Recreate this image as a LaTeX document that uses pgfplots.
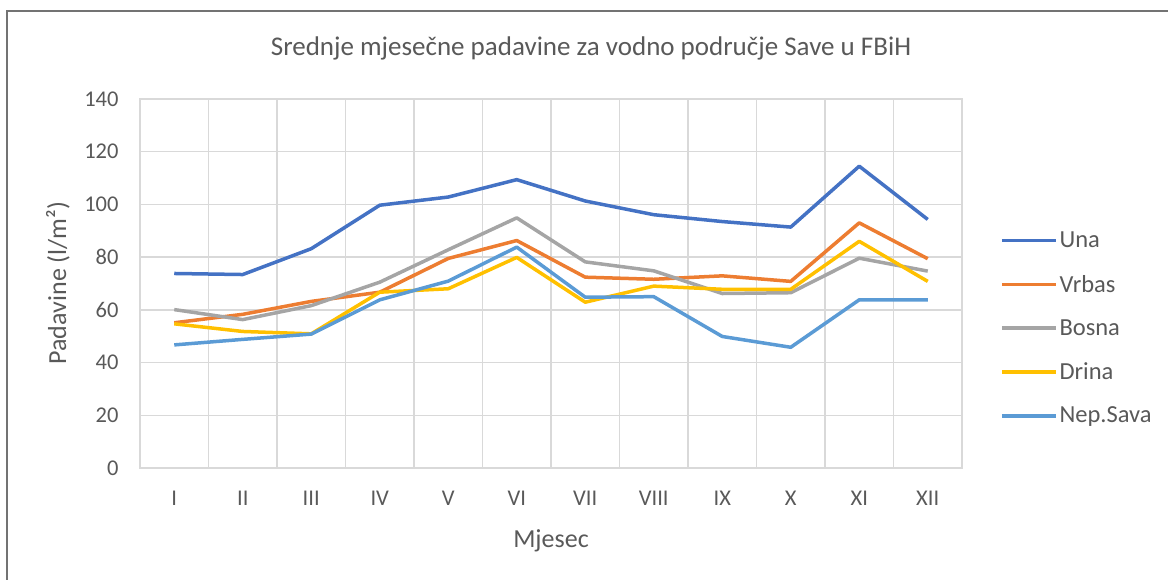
\documentclass[border=0pt]{standalone}
\usepackage{fontspec}
\setmainfont{Carlito}
\usepackage{pgfplots}
\pgfplotsset{compat=1.18}
\definecolor{cUna}{HTML}{4472C4}
\definecolor{cVrbas}{HTML}{ED7D31}
\definecolor{cBosna}{HTML}{A5A5A5}
\definecolor{cDrina}{HTML}{FFC000}
\definecolor{cSava}{HTML}{5B9BD5}
\definecolor{txt}{HTML}{595959}
\definecolor{gridc}{HTML}{D9D9D9}
\begin{document}
\begin{tikzpicture}
\useasboundingbox (0,0) rectangle (1168pt,580pt);
\draw[color=gray!110, line width=2pt] (7pt,0pt) -- (7pt,569pt) -- (1168pt,569pt);
\begin{axis}[
  at={(140pt,112pt)}, anchor=south west,
  scale only axis, width=822pt, height=369pt,
  xmin=0.5, xmax=12.5, ymin=0, ymax=140,
  xtick={1,...,12},
  xticklabels={I,II,III,IV,V,VI,VII,VIII,IX,X,XI,XII},
  minor xtick={1.5,2.5,...,11.5},
  ytick={0,20,...,140},
  major tick length=0pt, minor tick length=0pt,
  ymajorgrids, xminorgrids,
  grid style={gridc, line width=1.5pt},
  minor grid style={gridc, line width=1.5pt},
  axis line style={gridc, line width=1.5pt},
  every tick label/.append style={font=\fontsize{22.5}{27}\selectfont, text=txt},
  xticklabel style={yshift=-20pt},
  yticklabel style={xshift=-18pt},
  /pgf/number format/assume math mode=true,
  title={Srednje mjesečne padavine za vodno područje Save u FBiH},
  title style={at={(axis description cs:0.5487,1.12)}, anchor=center, font=\fontsize{27}{32}\selectfont, text=txt},
  xlabel={Mjesec},
  xlabel style={at={(axis description cs:0.5,-0.198)}, anchor=center, font=\fontsize{26}{31}\selectfont, text=txt},
  ylabel={Padavine (l/m²)},
  ylabel style={at={(axis description cs:-0.1,0.501)}, anchor=center, rotate=0, font=\fontsize{26}{31}\selectfont, text=txt},
  legend style={at={(axis description cs:1.046,0.379)}, anchor=west, draw=none, fill=none,
    font=\fontsize{24.5}{29}\selectfont, text=txt, row sep=22pt, inner sep=0pt},
  legend cell align=left,
  legend image code/.code={\draw[#1, line width=3.5pt] (0pt,0pt) -- (54pt,0pt);},
  every axis plot/.append style={line width=3.5pt, line join=round, mark=none},
]
\addplot[cUna] coordinates {(1,73.8)(2,73.4)(3,83.2)(4,99.7)(5,102.8)(6,109.4)(7,101.3)(8,96.1)(9,93.5)(10,91.4)(11,114.5)(12,94.3)};
\addplot[cVrbas] coordinates {(1,55.1)(2,58.3)(3,63.2)(4,66.7)(5,79.5)(6,86.3)(7,72.4)(8,71.6)(9,72.9)(10,70.8)(11,93.0)(12,79.4)};
\addplot[cBosna] coordinates {(1,60.1)(2,56.3)(3,61.6)(4,70.5)(5,82.8)(6,94.9)(7,78.2)(8,74.8)(9,66.2)(10,66.5)(11,79.6)(12,74.7)};
\addplot[cDrina] coordinates {(1,54.7)(2,51.8)(3,50.9)(4,66.7)(5,68.0)(6,79.9)(7,62.9)(8,69.0)(9,67.8)(10,67.8)(11,86.0)(12,70.8)};
\addplot[cSava] coordinates {(1,46.7)(2,48.8)(3,50.8)(4,63.8)(5,70.9)(6,83.8)(7,64.8)(8,65.0)(9,49.9)(10,45.8)(11,63.8)(12,63.8)};
\legend{Una,Vrbas,Bosna,Drina,Nep.Sava}
\end{axis}
\end{tikzpicture}
\end{document}
